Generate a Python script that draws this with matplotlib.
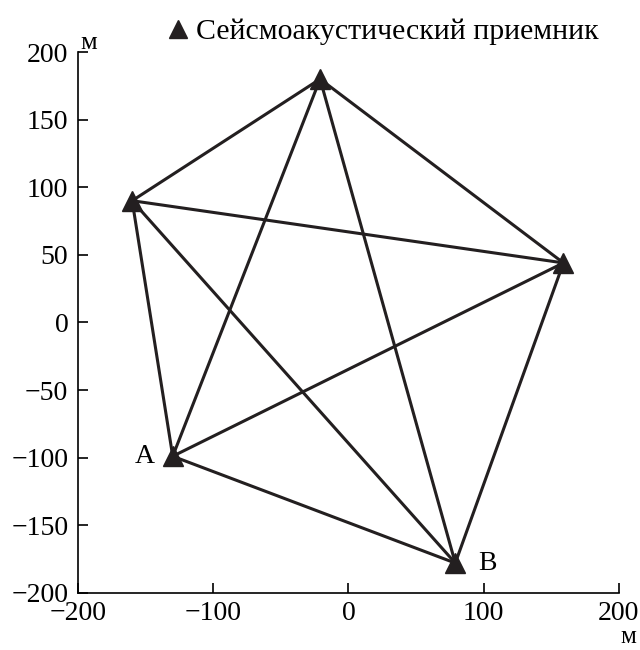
import matplotlib.pyplot as plt
from matplotlib.lines import Line2D

plt.rcParams['font.family'] = ['Liberation Serif', 'DejaVu Serif']

# receiver positions, metres
names = ['', '', '', 'B', 'A']
xs = [-160, -21, 159, 79, -130]
ys = [90, 180, 44, -178, -99]

ticks = [-200, -100, 0, 100, 200]
yticks = [-200, -150, -100, -50, 0, 50, 100, 150, 200]

fig = plt.figure(figsize=(6.4, 6.5), dpi=100)
ax = fig.add_axes([0.122, 0.088, 0.845, 0.832])

# every pair of receivers is connected
for i in range(len(xs)):
    for j in range(i + 1, len(xs)):
        ax.plot([xs[i], xs[j]], [ys[i], ys[j]], color='#231f20', lw=2.2,
                solid_capstyle='round', zorder=2)
ax.plot(xs, ys, '^', color='#231f20', markersize=15, zorder=3)

ax.text(xs[4] - 13, ys[4], names[4], fontsize=20, ha='right', va='center')
ax.text(xs[3] + 17, ys[3], names[3], fontsize=20, ha='left', va='center')

ax.set_xlim(-200, 200)
ax.set_ylim(-200, 200)
ax.set_xticks(ticks)
ax.set_yticks(yticks)
ax.set_xticklabels([str(t).replace('-', '\u2212') for t in ticks])
ax.set_yticklabels([str(t).replace('-', '\u2212') for t in yticks])
ax.tick_params(direction='in', length=7, width=1.2, labelsize=20)
ax.tick_params(axis='x', pad=6)
ax.tick_params(axis='y', pad=7)
for s in ['top', 'right']:
    ax.spines[s].set_visible(False)
for s in ['left', 'bottom']:
    ax.spines[s].set_linewidth(1.2)

fig.text(0.138, 0.934, 'м', fontsize=19, ha='center', va='center')
fig.text(0.982, 0.02, 'м', fontsize=18, ha='center', va='center')

handle = Line2D([], [], marker='^', color='#231f20', ls='none', markersize=13)
fig.legend([handle], ['Сейсмоакустический приемник'], loc='center',
           bbox_to_anchor=(0.6, 0.951), frameon=False, fontsize=21.5,
           handlelength=0.6, handletextpad=0.3, borderpad=0)

fig.savefig('out.png', dpi=100)
